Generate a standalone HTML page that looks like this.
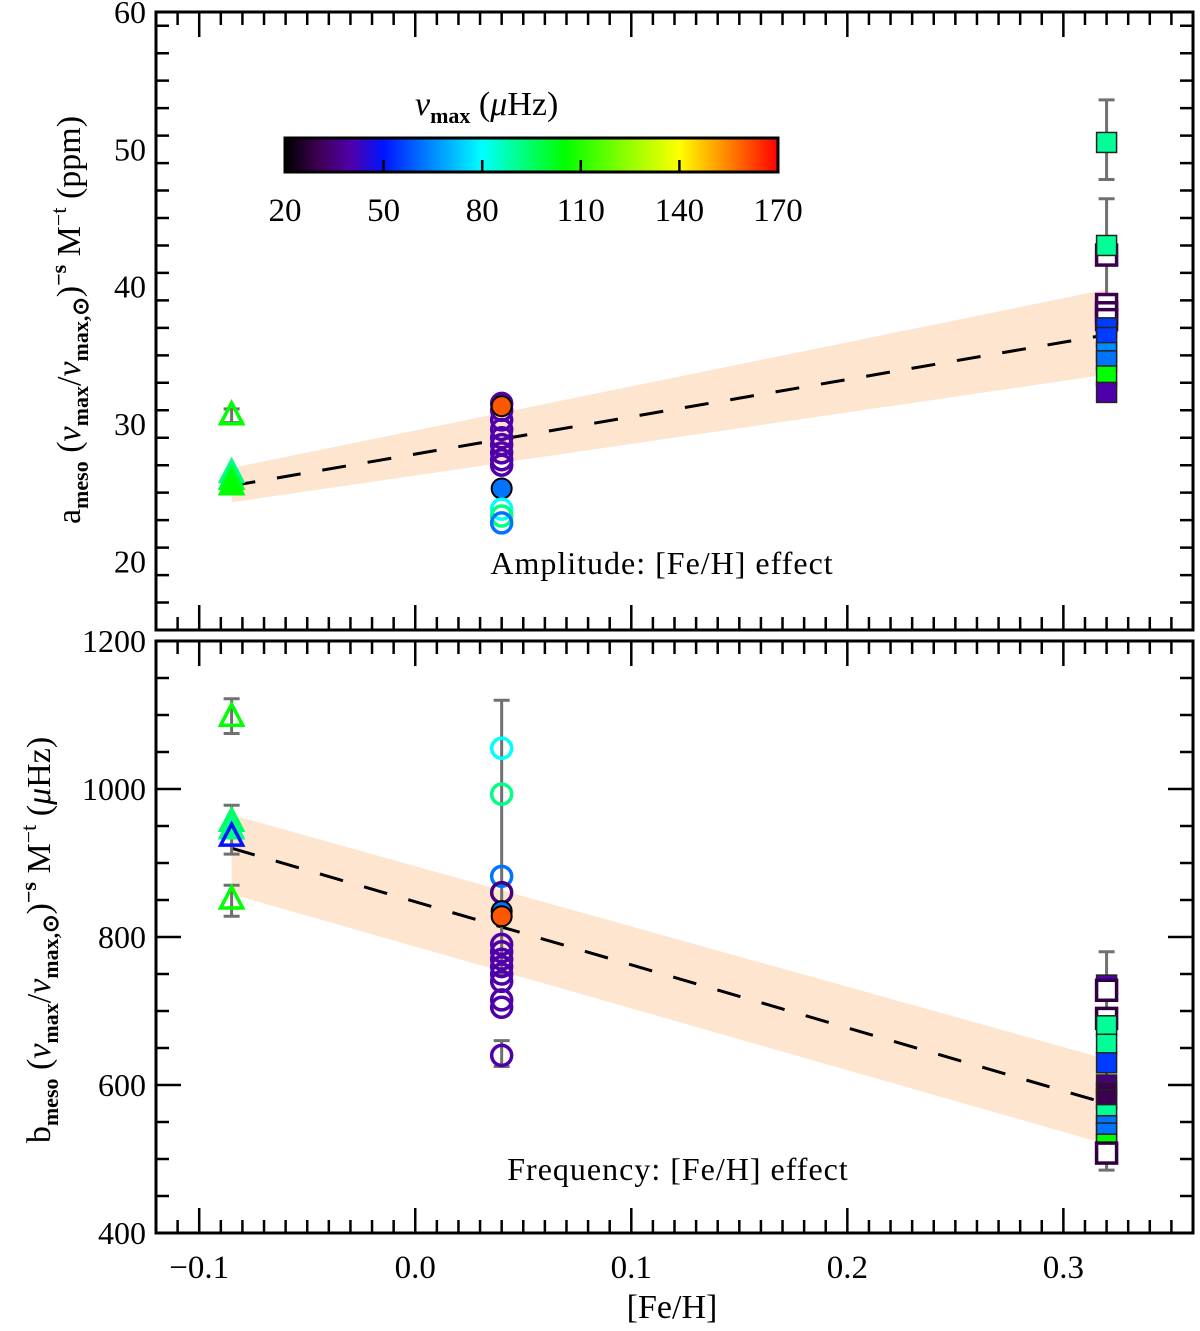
<!DOCTYPE html>
<html><head><meta charset="utf-8"><style>
body{margin:0;background:#fff}
svg{display:block;font-family:"Liberation Serif",serif}
</style></head><body>
<svg id="chart" width="1200" height="1331" viewBox="0 0 1200 1331" xmlns="http://www.w3.org/2000/svg"></svg>
<script>
// ---- data ----
const xTicks=[-0.1,0.0,0.1,0.2,0.3];
const xTickLabels=['\u22120.1','0.0','0.1','0.2','0.3'];
const topYTicks=[20,30,40,50,60];
const botYTicks=[400,600,800,1000,1200];
const cbTicks=[20,50,80,110,140,170];
const groupX=[-0.085,0.04,0.32];
// top panel: [y, numax, filled]
const topTri=[[30.6,105,0],[26.4,92,1],[25.9,100,1],[25.5,105,1]];
const topCirc=[[31.5,40,0],[31.0,40,0],[30.3,40,0],[29.6,40,0],[29.0,40,0],[28.5,40,0],[27.9,40,0],[27.4,40,0],[27.0,40,0],[31.3,160,1],[25.3,62,1],[23.8,80,0],[23.3,92,0],[22.8,62,0]];
const topSq=[[50.5,90,1],[42.3,30,0],[43.0,90,1],[38.7,30,0],[38.1,30,0],[37.6,30,0],[37.0,55,1],[36.3,55,1],[35.2,65,1],[34.6,62,1],[33.5,105,1],[32.3,40,1]];
const topErr=[[0,30.1,31.1],[2,47.8,53.6],[2,39.3,46.4],[2,37.5,39.3]];
// bottom panel
const botTri=[[1097,105,0],[955,95,0],[945,92,1],[935,50,0],[850,105,0]];
const botCirc=[[1055,80,0],[993,92,0],[882,62,0],[860,35,0],[835,62,1],[828,160,1],[790,40,0],[780,40,0],[770,40,0],[760,40,0],[750,40,0],[740,40,0],[715,40,0],[705,40,0],[640,40,0]];
const botSq=[[735,40,1],[728,28,0],[690,28,0],[680,90,1],[655,90,1],[630,55,1],[600,35,1],[590,30,1],[580,30,1],[560,90,1],[545,62,1],[535,62,1],[520,105,1],[508,28,0]];
const botErr=[[0,1075,1122],[0,912,978],[0,828,870],[1,750,1120],[1,625,660],[2,485,780]];
// fit band & line: [feh, low, high, mid]
const topBand=[[-0.085,24.3,26.8,25.5],[0.32,33.6,39.8,36.5]];
const botBand=[[-0.085,858,965,920],[0.32,520,635,575]];

// ---- helpers ----
const svg=document.getElementById('chart');
const NS='http://www.w3.org/2000/svg';
function mk(tag,attrs,parent){const e=document.createElementNS(NS,tag);for(const k in attrs)e.setAttribute(k,attrs[k]);(parent||svg).appendChild(e);return e;}
const X0=156,X1=1193,XMIN=-0.12,XMAX=0.36;
const xs=v=>X0+(v-XMIN)/(XMAX-XMIN)*(X1-X0);
const panels=[{t:12,b:630,min:15,max:60,maj:10,min_:2},{t:641,b:1233,min:400,max:1200,maj:200,min_:50}];
const ys=(p,v)=>p.b-(v-p.min)/(p.max-p.min)*(p.b-p.t);
const stops=[[20,[0,0,0]],[30,[60,0,80]],[40,[80,0,170]],[50,[0,20,255]],[65,[0,140,255]],[80,[0,255,255]],[90,[0,255,150]],[105,[0,255,0]],[125,[150,255,0]],[140,[255,255,0]],[155,[255,130,0]],[170,[255,0,0]]];
function cmap(v){for(let i=0;i<stops.length-1;i++){const a=stops[i],b=stops[i+1];if(v<=b[0]){const t=Math.max(0,(v-a[0])/(b[0]-a[0]));return 'rgb('+a[1].map((c,j)=>Math.round(c+(b[1][j]-c)*t)).join(',')+')';}}return 'rgb(255,0,0)';}

function drawPanel(p,band,err,tri,circ,sq,pname){
  const g=mk('g',{});
  
  
  const b0=band[0],b1=band[1];
  const poly=mk('polygon',{points:`${xs(b0[0])},${ys(p,b0[1])} ${xs(b1[0])},${ys(p,b1[1])} ${xs(b1[0])},${ys(p,b1[2])} ${xs(b0[0])},${ys(p,b0[2])}`,fill:'#fde5cf'},g);
  
  
  const ln=mk('line',{x1:xs(b0[0]),y1:ys(p,b0[3]),x2:xs(b1[0]),y2:ys(p,b1[3]),stroke:'#000','stroke-width':3,'stroke-dasharray':'24,22'},g);
  
  
  err.forEach(e=>{const x=xs(groupX[e[0]]);const y1=ys(p,e[1]),y2=ys(p,e[2]);
    const eb=mk('path',{d:`M${x},${y1}V${y2}M${x-8},${y1}H${x+8}M${x-8},${y2}H${x+8}`,stroke:'#707070','stroke-width':3,fill:'none'},g);
    
    });
  const sw=3.5;
  tri.forEach(d=>{const x=xs(groupX[0]),y=ys(p,d[0]),c=cmap(d[1]);
    const t=mk('polygon',{points:`${x},${y-13} ${x+11},${y+8} ${x-11},${y+8}`,fill:d[2]?c:'none',stroke:c,'stroke-width':sw},g);
    
    });
  circ.forEach(d=>{const x=xs(groupX[1]),y=ys(p,d[0]),c=cmap(d[1]);
    const ci=mk('circle',{cx:x,cy:y,r:10,fill:d[2]?c:'none',stroke:d[2]?'#000':c,'stroke-width':d[2]?2:sw},g);
    
    });
  sq.forEach(d=>{const x=xs(groupX[2]),y=ys(p,d[0]),c=cmap(d[1]);
    const s=mk('rect',{x:x-10,y:y-10,width:20,height:20,fill:d[2]?c:'#fff',stroke:d[2]?'#222':c,'stroke-width':d[2]?1.5:sw},g);
    
    });
  const fr=mk('rect',{x:X0,y:p.t,width:X1-X0,height:p.b-p.t,fill:'none',stroke:'#000','stroke-width':3},g);
  
  
  let d='';
  for(let i=-12;i<=36;i++){const v=i/100,x=xs(v);const L=(i%10===0)?25:13;d+=`M${x},${p.b}v${-L}M${x},${p.t}v${L}`;}
  for(let v=p.min;v<=p.max+1e-9;v+=p.min_){const y=ys(p,v);const L=(Math.abs(v/p.maj-Math.round(v/p.maj))<1e-6)?25:13;d+=`M${X0},${y}h${L}M${X1},${y}h${-L}`;}
  const tk=mk('path',{d:d,stroke:'#000','stroke-width':2.5,fill:'none'},g);
  
  
}
drawPanel(panels[0],topBand,topErr,topTri,topCirc,topSq,'amplitude-panel');
drawPanel(panels[1],botBand,botErr,botTri,botCirc,botSq,'frequency-panel');

topYTicks.forEach(v=>{const t=mk('text',{x:146,y:ys(panels[0],v)+11,'text-anchor':'end','font-size':32});t.textContent=v;
  
  });
botYTicks.forEach(v=>{const t=mk('text',{x:146,y:ys(panels[1],v)+11,'text-anchor':'end','font-size':32});t.textContent=v;
  
  });
xTicks.forEach((v,i)=>{const t=mk('text',{x:xs(v),y:1278,'text-anchor':'middle','font-size':33});t.textContent=xTickLabels[i];
  
  });

const CB0=285,CB1=778,CBT=138,CBB=172;
const cbx=v=>CB0+(v-20)/150*(CB1-CB0);
const defs=mk('defs',{});const grad=mk('linearGradient',{id:'cbg',x1:0,x2:1,y1:0,y2:0},defs);
stops.forEach(s=>mk('stop',{offset:(s[0]-20)/150,'stop-color':cmap(s[0])},grad));
const cb=mk('rect',{x:CB0,y:CBT,width:CB1-CB0,height:CBB-CBT,fill:'url(#cbg)',stroke:'#000','stroke-width':3});


cbTicks.forEach(v=>{const x=cbx(v);
  if(v>20&&v<170){const l=mk('line',{x1:x,y1:CBB,x2:x,y2:CBB-12,stroke:'#000','stroke-width':2.5});}
  const t=mk('text',{x:x,y:221,'text-anchor':'middle','font-size':33});t.textContent=v;
  
  });
</script>
<svg style="position:absolute;left:0;top:0" width="1200" height="1331">
<g font-family="'Liberation Serif',serif" fill="#000">
<text x="415" y="115" font-size="34"><tspan font-style="italic">ν</tspan><tspan font-size="22" font-weight="bold" dy="8">max</tspan><tspan dy="-8">  (</tspan><tspan font-style="italic">μ</tspan><tspan>Hz)</tspan></text>
<text x="662" y="574" font-size="32" text-anchor="middle" letter-spacing="1">Amplitude: [Fe/H] effect</text>
<text x="678" y="1180" font-size="32" text-anchor="middle" letter-spacing="1">Frequency: [Fe/H] effect</text>
<text x="672" y="1318" font-size="34" text-anchor="middle">[Fe/H]</text>
<text transform="translate(80,320) rotate(-90)" font-size="34" text-anchor="middle">a<tspan font-size="22" font-weight="bold" dy="8">meso</tspan><tspan dy="-8"> (</tspan><tspan font-style="italic">ν</tspan><tspan font-size="22" font-weight="bold" dy="8">max</tspan><tspan dy="-8">/</tspan><tspan font-style="italic">ν</tspan><tspan font-size="22" font-weight="bold" dy="8">max,⊙</tspan><tspan dy="-8">)</tspan><tspan font-size="22" font-weight="bold" dy="-14">−s</tspan><tspan dy="14"> M</tspan><tspan font-size="22" dy="-14">−t</tspan><tspan dy="14"> (ppm)</tspan></text>
<text transform="translate(50,940) rotate(-90)" font-size="34" text-anchor="middle">b<tspan font-size="22" font-weight="bold" dy="8">meso</tspan><tspan dy="-8"> (</tspan><tspan font-style="italic">ν</tspan><tspan font-size="22" font-weight="bold" dy="8">max</tspan><tspan dy="-8">/</tspan><tspan font-style="italic">ν</tspan><tspan font-size="22" font-weight="bold" dy="8">max,⊙</tspan><tspan dy="-8">)</tspan><tspan font-size="22" font-weight="bold" dy="-14">−s</tspan><tspan dy="14"> M</tspan><tspan font-size="22" dy="-14">−t</tspan><tspan dy="14">    (</tspan><tspan font-style="italic">μ</tspan><tspan>Hz)</tspan></text>
</g></svg>
</body></html>
